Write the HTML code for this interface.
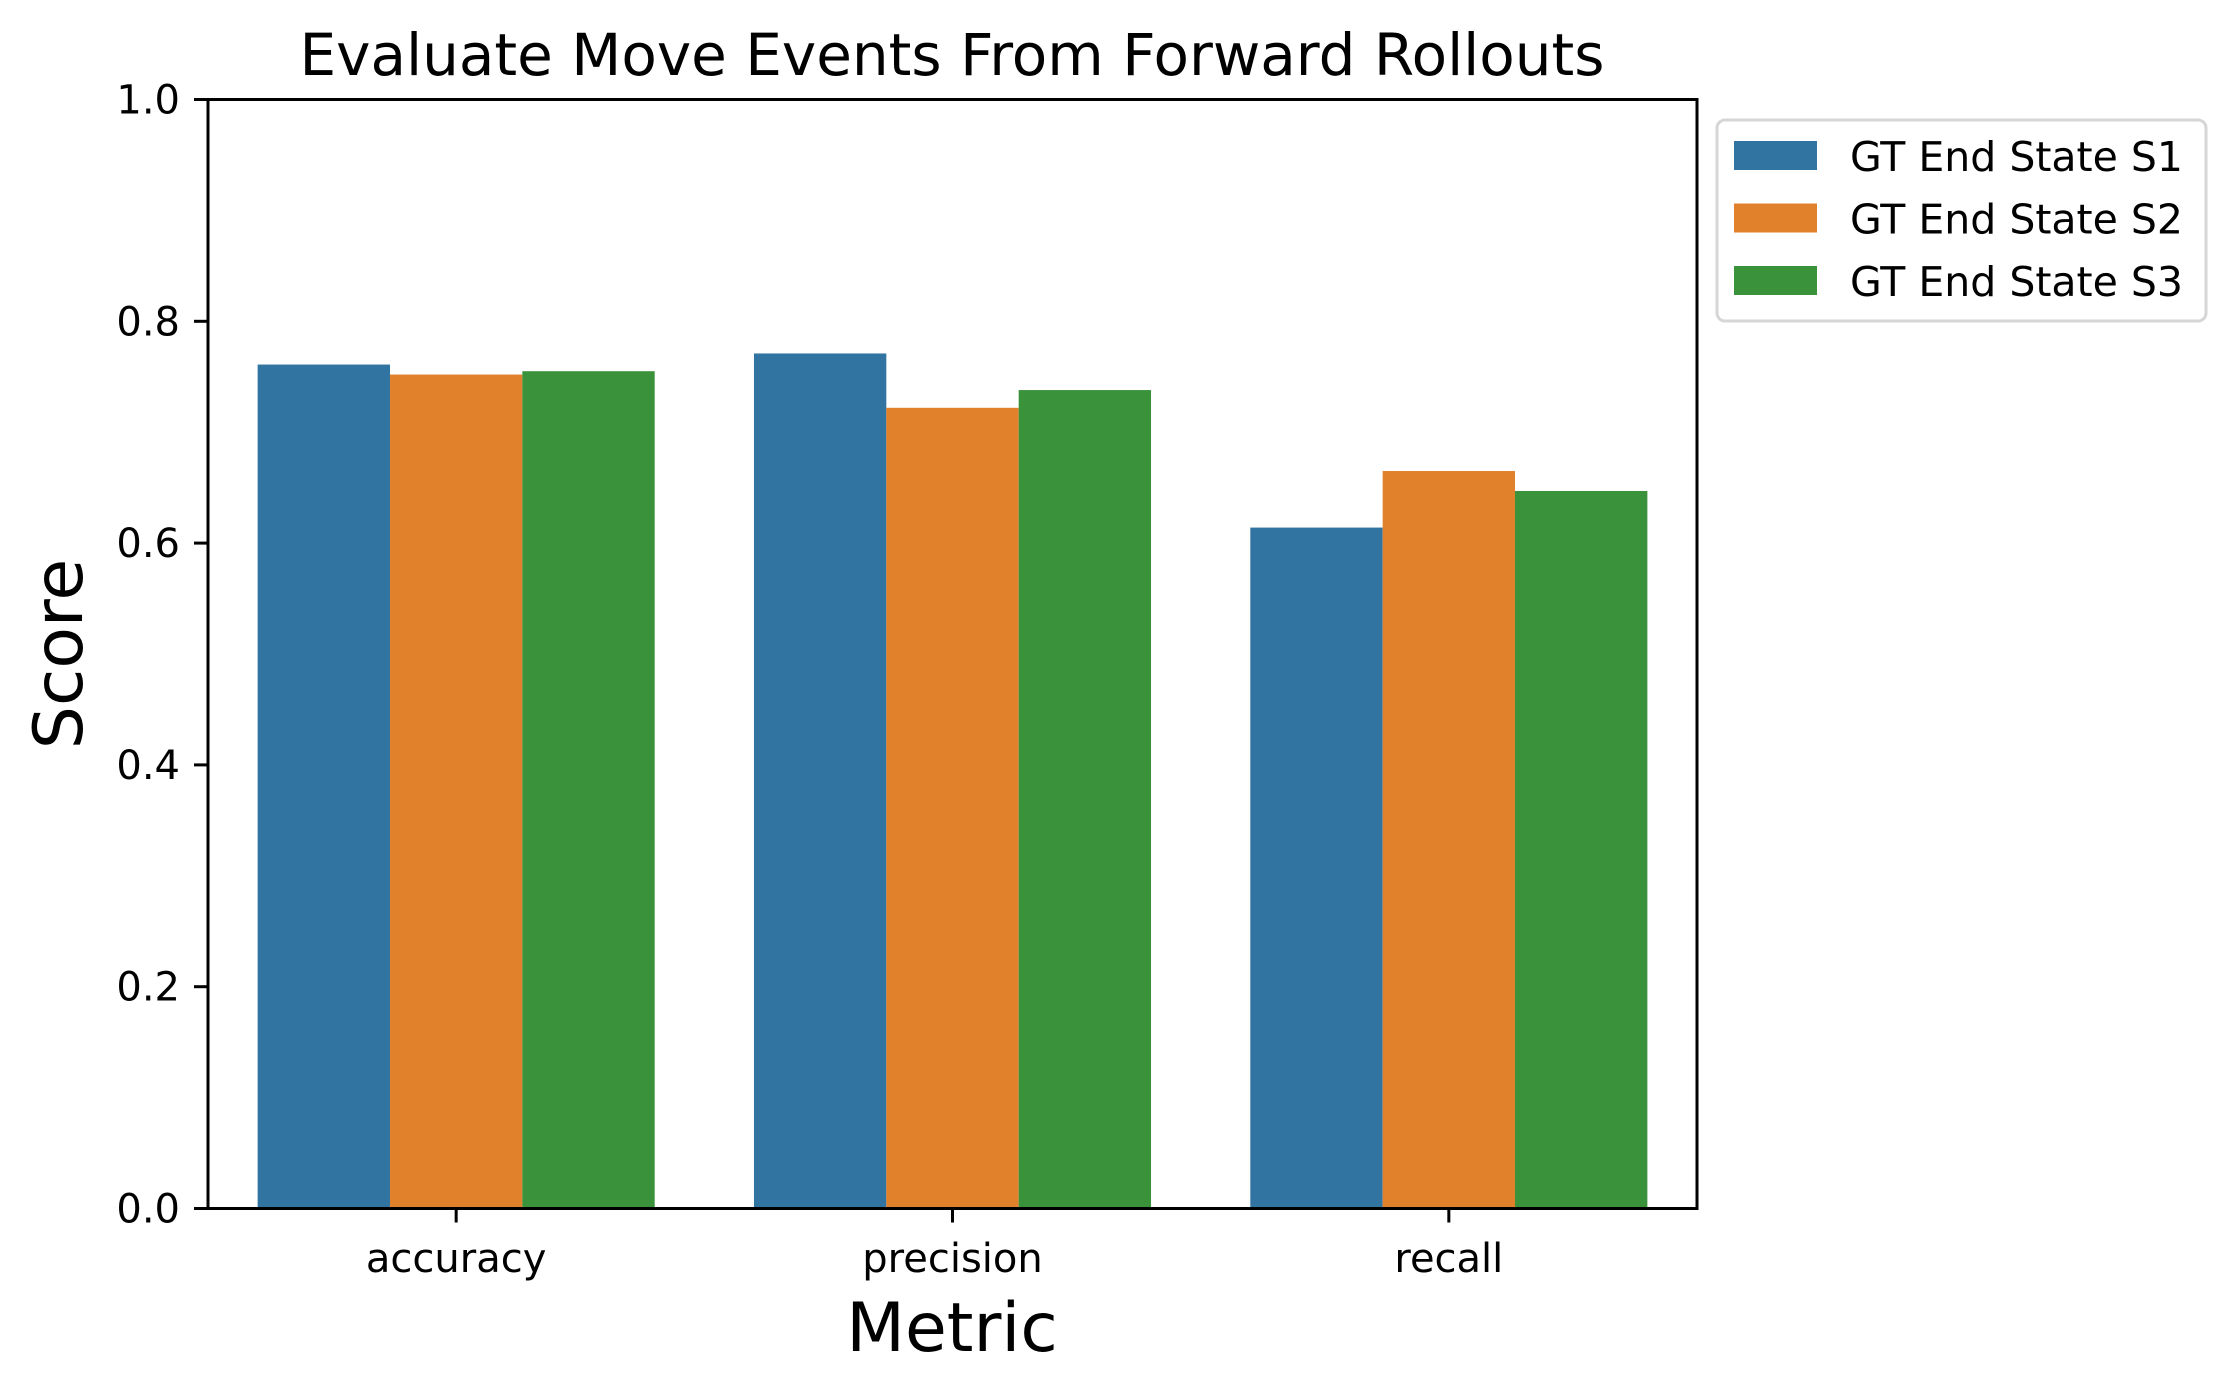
<!DOCTYPE html>
<html><head><meta charset="utf-8"><style>
html,body{margin:0;padding:0;background:#fff;}
svg{display:block;font-family:"DejaVu Sans","Liberation Sans",sans-serif;}
</style></head><body>
<svg id="chart" width="2235" height="1392" viewBox="0 0 2235 1392" xmlns="http://www.w3.org/2000/svg">
<text x="952" y="75" font-size="58" text-anchor="middle" fill="#000">Evaluate Move Events From Forward Rollouts</text>
<g id="bars"></g>
<g id="yaxis"></g>
<g id="xaxis"></g>
<rect x="208" y="99.5" width="1489" height="1109" fill="none" stroke="#000" stroke-width="3"/>
<text transform="translate(82,654) rotate(-90)" font-size="68" text-anchor="middle" fill="#000">Score</text>
<text x="952" y="1351" font-size="68" text-anchor="middle" fill="#000">Metric</text>
<g id="legend">
<rect x="1717" y="120" width="489" height="201" rx="8" fill="#fff" stroke="#d6d6d6" stroke-width="3"/>
</g>
</svg>
<script>
const categories = ["accuracy", "precision", "recall"];
const seriesNames = ["GT End State S1", "GT End State S2", "GT End State S3"];
const s1Values = [0.761, 0.771, 0.614];
const s2Values = [0.752, 0.722, 0.665];
const s3Values = [0.755, 0.738, 0.647];
const yTicks = [0.0, 0.2, 0.4, 0.6, 0.8, 1.0];
const yTickLabels = ["0.0", "0.2", "0.4", "0.6", "0.8", "1.0"];

const NS = "http://www.w3.org/2000/svg";
const colors = ["#3274a1", "#e1812c", "#3a923a"];
const plotL = 208, plotR = 1697, plotT = 99.5, plotB = 1208.5;
function yScale(v){ return plotB - (v - 0) / (1 - 0) * (plotB - plotT); }
const band = (plotR - plotL) / categories.length;
function xCenter(i){ return plotL + band * (i + 0.5); }
const barW = band * 0.8 / 3;
function mk(tag, attrs){ const e = document.createElementNS(NS, tag); for (const k in attrs) e.setAttribute(k, attrs[k]); return e; }

const series = [s1Values, s2Values, s3Values];
const barsG = document.getElementById('bars');
series.forEach((vals, s) => {
  vals.forEach((v, i) => {
    const x = xCenter(i) - band * 0.4 + s * barW;
    const r = mk('rect', {x: x, y: yScale(v), width: barW, height: yScale(0) - yScale(v), fill: colors[s]});
    
    
    barsG.appendChild(r);
  });
});

const yG = document.getElementById('yaxis');
yTicks.forEach((t, i) => {
  const y = yScale(t);
  const l = mk('line', {x1: 194, x2: 208, y1: y, y2: y, stroke: '#000', 'stroke-width': 3});
  
  
  yG.appendChild(l);
  const tx = mk('text', {x: 180, y: y + 14, 'font-size': 40, 'text-anchor': 'end', fill: '#000'});
  tx.textContent = yTickLabels[i];
  
  
  yG.appendChild(tx);
});

const xG = document.getElementById('xaxis');
categories.forEach((c, i) => {
  const x = xCenter(i);
  const l = mk('line', {x1: x, x2: x, y1: plotB, y2: plotB + 14, stroke: '#000', 'stroke-width': 3});
  
  
  xG.appendChild(l);
  const tx = mk('text', {x: x, y: 1272, 'font-size': 40, 'text-anchor': 'middle', fill: '#000'});
  tx.textContent = c;
  
  
  xG.appendChild(tx);
});

const lg = document.getElementById('legend');
seriesNames.forEach((n, s) => {
  const y = 141 + s * 62.5;
  const r = mk('rect', {x: 1734, y: y, width: 83, height: 29, fill: colors[s]});
  
  
  lg.appendChild(r);
  const t = mk('text', {x: 1850, y: y + 30, 'font-size': 41, fill: '#000'});
  t.textContent = n;
  
  
  lg.appendChild(t);
});
</script>
</body></html>
